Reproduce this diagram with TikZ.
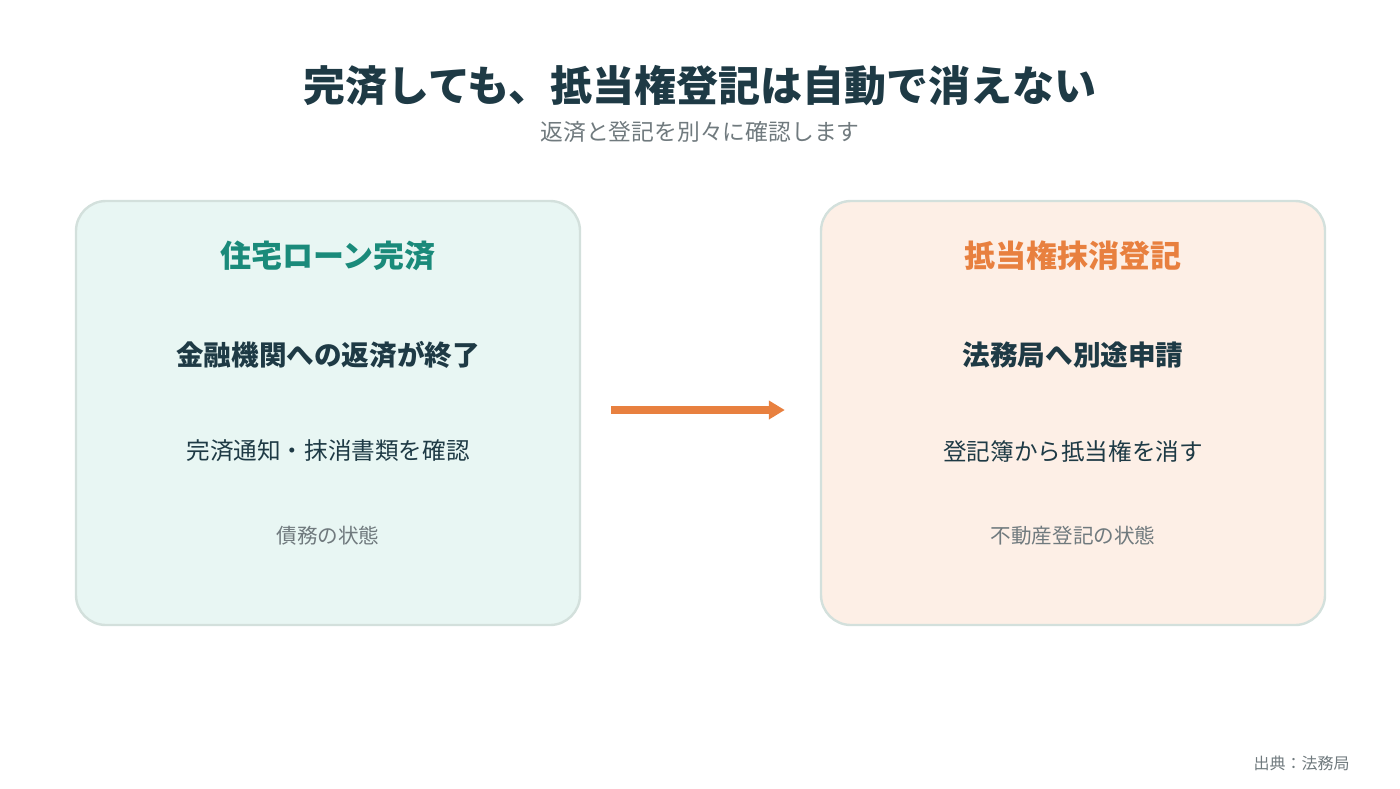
\documentclass[tikz,border=0pt]{standalone}
\usepackage{fontspec}
\setmainfont{Noto Sans CJK JP}
\usepackage{xcolor}
\usetikzlibrary{arrows.meta}
\definecolor{ink}{HTML}{1E3A45}
\definecolor{greytext}{HTML}{707A7E}
\definecolor{tealT}{HTML}{1A8A7A}
\definecolor{orangeT}{HTML}{E8803F}
\definecolor{tealbg}{HTML}{E8F6F3}
\definecolor{orangebg}{HTML}{FDEFE6}
\definecolor{rim}{HTML}{D3E0DC}

\begin{document}
\begin{tikzpicture}[x=0.5pt, y=-0.5pt,
			every node/.style={inner sep=0pt, color=ink},
			panel/.style={draw=rim, line width=1.2pt, rounded corners=15pt, minimum width=252pt, minimum height=212pt},
			head/.style={font=\bfseries\fontsize{15.5}{18}\selectfont},
			lead/.style={font=\bfseries\fontsize{13.8}{16}\selectfont},
			body/.style={font=\fontsize{11.8}{14}\selectfont},
			note/.style={font=\fontsize{10.3}{12}\selectfont, color=greytext},
			arr/.style={-{Triangle[length=8pt, width=9pt]}, line width=4pt, draw=orangeT}
		]
		\useasboundingbox (0,0) rectangle (1400,788);

		\node[font=\bfseries\fontsize{21}{24}\selectfont] (title) at (700,86) {完済しても、抵当権登記は自動で消えない};
		\node[font=\fontsize{11.4}{14}\selectfont, color=greytext] (sub) at (700,132) {返済と登記を別々に確認します};

		% left panel
		\node[panel, fill=tealbg] (loan) at (328,413) {};
		\node[head, color=tealT] (loanT) at (328,256) {住宅ローン完済};
		\node[lead] (loanA) at (328,355) {金融機関への返済が終了};
		\node[body] (loanB) at (328,451) {完済通知・抹消書類を確認};
		\node[note] (loanC) at (328,536) {債務の状態};

		% right panel
		\node[panel, fill=orangebg] (reg) at (1073,413) {};
		\node[head, color=orangeT] (regT) at (1073,256) {抵当権抹消登記};
		\node[lead] (regA) at (1073,355) {法務局へ別途申請};
		\node[body] (regB) at (1073,451) {登記簿から抵当権を消す};
		\node[note] (regC) at (1073,536) {不動産登記の状態};

		\draw[arr, shorten <=15pt, shorten >=17.5pt] ([yshift=1.5pt]loan.east) -- ([yshift=1.5pt]reg.west);

		\node[font=\fontsize{8}{10}\selectfont, color=greytext, anchor=east] (src) at (1350,763) {出典：法務局};
	\end{tikzpicture}
\end{document}
